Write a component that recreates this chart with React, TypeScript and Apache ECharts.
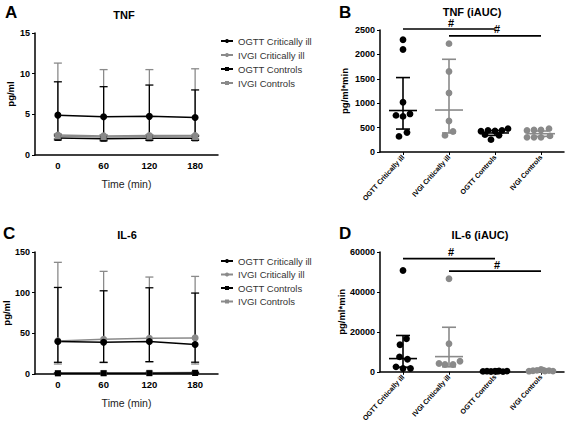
import React, { useEffect, useRef } from 'react';
import * as echarts from 'echarts';

const timeLabels = ['0', '60', '120', '180'];
const groupLabels = ['OGTT Critically ill', 'IVGI Critically ill', 'OGTT Controls', 'IVGI Controls'];

// Panel A: TNF time course (pg/ml) – mean, lower, upper
const tnfOgttIll = [4.9, 4.7, 4.75, 4.6];
const tnfOgttIllLo = [2.5, 2.4, 2.4, 2.4];
const tnfOgttIllHi = [9.0, 8.4, 8.6, 8.0];
const tnfIvgiIll = [2.45, 2.35, 2.4, 2.4];
const tnfIvgiIllLo = [2.0, 1.9, 1.95, 1.95];
const tnfIvgiIllHi = [11.3, 10.5, 10.5, 10.6];
const tnfOgttCtl = [2.1, 2.0, 2.05, 2.05];
const tnfOgttCtlLo = [1.85, 1.75, 1.8, 1.8];
const tnfOgttCtlHi = [2.35, 2.25, 2.3, 2.3];
const tnfIvgiCtl = [2.3, 2.2, 2.25, 2.2];
const tnfIvgiCtlLo = [2.0, 1.95, 2.0, 1.95];
const tnfIvgiCtlHi = [2.6, 2.5, 2.5, 2.45];

// Panel C: IL-6 time course (pg/ml)
const il6OgttIll = [39.9, 39.0, 40.0, 36.2];
const il6OgttIllLo = [14.4, 14.4, 15.2, 14.5];
const il6OgttIllHi = [106.4, 102.3, 106.0, 99.5];
const il6IvgiIll = [40.7, 42.7, 44.0, 44.4];
const il6IvgiIllLo = [12.3, 14.0, 15.0, 12.3];
const il6IvgiIllHi = [137.3, 126.2, 119.2, 120.0];
const il6OgttCtl = [0.8, 0.9, 1.0, 1.2];
const il6OgttCtlLo = [0.3, 0.4, 0.5, 0.6];
const il6OgttCtlHi = [1.3, 1.4, 1.5, 1.8];
const il6IvgiCtl = [1.2, 1.3, 1.5, 1.8];
const il6IvgiCtlLo = [0.6, 0.7, 0.8, 1.0];
const il6IvgiCtlHi = [1.8, 1.9, 2.2, 2.6];

// Panel B: TNF iAUC individual values (pg/ml*min)
const tnfAucOgttIll = [2300, 2100, 1020, 750, 730, 780, 320, 400];
const tnfAucIvgiIll = [2220, 1650, 1210, 635, 340, 420];
const tnfAucOgttCtl = [424, 444, 430, 444, 478, 355, 341, 253];
const tnfAucIvgiCtl = [440, 450, 450, 478, 300, 300, 300, 330];
// centre, lower, upper
const tnfAucSummary = [
  [850, 470, 1525],
  [860, 390, 1900],
  [390, 340, 440],
  [375, 320, 430],
];

// Panel D: IL-6 iAUC individual values (pg/ml*min)
const il6AucOgttIll = [50750, 16530, 13550, 7440, 6280, 2480, 1650, 1650];
const il6AucIvgiIll = [46600, 14050, 4130, 3640, 3640, 5290];
const il6AucOgttCtl = [200, 300, 150, 250, 400, 100, 350, 200];
const il6AucIvgiCtl = [300, 500, 700, 1200, 400, 600, 350, 800];
const il6AucSummary = [
  [6610, 2310, 18180],
  [7600, 2480, 22300],
  [200, 100, 350],
  [400, 200, 700],
];

// horizontal jitter of dots (px)
const jitterOgttIll = [0, 0, 0, -7, 0, 7, -4, 4];
const jitterIvgiIll = [0, 0, 0, 0, -4, 4];
const jitterCtl = [-14, -7, 0, 7, 13, -10, 4, -4];
const jitterCtl2 = [-14, -7, 0, 8, -14, -7, 0, 9];
const jitterDOgttIll = [0, 3.5, -3, -3.5, 4.5, -7, 0, 7.5];
const jitterDIvgiIll = [0, 0, -10, -4, 4, 11];
const jitterDCtl = [-12, -8, -4, 0, 4, 8, 12, 2];

// significance brackets: from group, to group, level
const tnfSig = [[0, 2, 2520], [1, 3, 2380]];
const il6Sig = [[0, 2, 56700], [1, 3, 50400]];

const BLACK = '#000000';
const GRAY = '#8a8a8a';
const FONT = 'Liberation Sans, Arial, sans-serif';

function errRender(capW: number) {
  return (params: any, api: any) => {
    const x = api.value(0);
    const lo = api.value(1);
    const hi = api.value(2);
    const pLo = api.coord([x, lo]);
    const pHi = api.coord([x, hi]);
    const style = { stroke: api.visual('color'), lineWidth: 1.3, fill: null };
    return {
      type: 'group',
      children: [
        { type: 'line', shape: { x1: pLo[0], y1: pLo[1], x2: pHi[0], y2: pHi[1] }, style },
        { type: 'line', shape: { x1: pHi[0] - capW / 2, y1: pHi[1], x2: pHi[0] + capW / 2, y2: pHi[1] }, style },
        { type: 'line', shape: { x1: pLo[0] - capW / 2, y1: pLo[1], x2: pLo[0] + capW / 2, y2: pLo[1] }, style },
      ],
    };
  };
}

function summaryRender(params: any, api: any) {
  const x = api.value(0);
  const c = api.coord([x, api.value(1)]);
  const lo = api.coord([x, api.value(2)]);
  const hi = api.coord([x, api.value(3)]);
  const style = { stroke: api.visual('color'), lineWidth: 1.6, fill: null };
  const mw = 28;
  const cw = 14;
  return {
    type: 'group',
    children: [
      { type: 'line', shape: { x1: c[0] - mw / 2, y1: c[1], x2: c[0] + mw / 2, y2: c[1] }, style },
      { type: 'line', shape: { x1: lo[0], y1: lo[1], x2: hi[0], y2: hi[1] }, style },
      { type: 'line', shape: { x1: hi[0] - cw / 2, y1: hi[1], x2: hi[0] + cw / 2, y2: hi[1] }, style },
      { type: 'line', shape: { x1: lo[0] - cw / 2, y1: lo[1], x2: lo[0] + cw / 2, y2: lo[1] }, style },
    ],
  };
}

function dotRender(params: any, api: any) {
  const p = api.coord([api.value(0), api.value(1)]);
  return {
    type: 'circle',
    shape: { cx: p[0] + api.value(2), cy: p[1], r: 3.4 },
    style: { fill: api.visual('color') },
  };
}

function sigRender(params: any, api: any) {
  const a = api.coord([api.value(0), api.value(2)]);
  const b = api.coord([api.value(1), api.value(2)]);
  return {
    type: 'group',
    children: [
      { type: 'line', shape: { x1: a[0], y1: a[1], x2: b[0], y2: b[1] }, style: { stroke: '#000', lineWidth: 1.6 } },
      {
        type: 'text',
        x: (a[0] + b[0]) / 2 + 2,
        y: a[1] - 1,
        style: { text: '#', fill: '#000', font: 'bold 11px ' + FONT, textAlign: 'center', textVerticalAlign: 'bottom' },
      },
    ],
  };
}

function errData(lo: number[], hi: number[]) {
  return lo.map((l, i) => [i, l, hi[i]]);
}
function dotData(cat: number, vals: number[], jit: number[]) {
  return vals.map((v, i) => [cat, v, jit[i]]);
}

export default function App() {
  const ref = useRef<HTMLDivElement>(null);
  useEffect(() => {
    if (!ref.current) return;
    const chart = echarts.init(ref.current, undefined, { renderer: 'svg' });

    const grids = [
      { left: 35, top: 33, width: 183, height: 122 },
      { left: 380, top: 30, width: 184, height: 122 },
      { left: 35, top: 252, width: 183, height: 122 },
      { left: 380, top: 252, width: 184, height: 121 },
    ];

    const axisLine = { show: true, lineStyle: { color: '#000', width: 1.5 } };
    const yLabel = {
      color: '#000', fontSize: 9, fontWeight: 'bold', fontFamily: FONT, margin: 5,
      formatter: (v: number) => String(v),
    };
    const yName = { color: '#000', fontSize: 9.5, fontWeight: 'bold', fontFamily: FONT };

    const timeAxis = (gi: number) => ({
      type: 'category',
      gridIndex: gi,
      data: timeLabels,
      boundaryGap: true,
      axisLine,
      axisTick: { show: false },
      axisLabel: { color: '#000', fontSize: 9.5, fontWeight: 'bold', fontFamily: FONT, margin: 5 },
      name: 'Time (min)',
      nameLocation: 'middle',
      nameGap: 23,
      nameTextStyle: { color: '#222', fontSize: 10.5, fontFamily: FONT },
    });
    const groupAxis = (gi: number) => ({
      type: 'category',
      gridIndex: gi,
      data: groupLabels,
      boundaryGap: true,
      axisLine,
      axisTick: { show: true, alignWithLabel: true, length: 3, lineStyle: { color: '#000', width: 1 } },
      axisLabel: { color: '#000', fontSize: 7, fontWeight: 'bold', fontFamily: FONT, rotate: 48, margin: 4, interval: 0 },
    });
    const valAxis = (gi: number, max: number, interval: number, name: string, gap: number) => ({
      type: 'value',
      gridIndex: gi,
      min: 0,
      max,
      interval,
      axisLine,
      axisTick: { show: true, length: 3, lineStyle: { color: '#000', width: 1 } },
      splitLine: { show: false },
      axisLabel: yLabel,
      name,
      nameLocation: 'middle',
      nameGap: gap,
      nameTextStyle: yName,
    });

    const names = groupLabels;
    const lineSeries = (gi: number, name: string, data: number[], color: string, symbol: string, size: number) => ({
      type: 'line',
      name,
      xAxisIndex: gi,
      yAxisIndex: gi,
      data,
      symbol,
      symbolSize: size,
      itemStyle: { color },
      lineStyle: { color, width: 1.5 },
      z: 5,
    });
    const errSeries = (gi: number, lo: number[], hi: number[], color: string) => ({
      type: 'custom',
      xAxisIndex: gi,
      yAxisIndex: gi,
      renderItem: errRender(8),
      itemStyle: { color },
      data: errData(lo, hi),
      z: 3,
      silent: true,
    });
    const dotSeries = (gi: number, cat: number, vals: number[], jit: number[], color: string) => ({
      type: 'custom',
      xAxisIndex: gi,
      yAxisIndex: gi,
      renderItem: dotRender,
      itemStyle: { color },
      data: dotData(cat, vals, jit),
      z: 4,
      silent: true,
    });
    const summarySeries = (gi: number, summ: number[][]) => [0, 1, 2, 3].map((i) => ({
      type: 'custom',
      xAxisIndex: gi,
      yAxisIndex: gi,
      renderItem: summaryRender,
      itemStyle: { color: i % 2 === 0 ? BLACK : GRAY },
      data: [[i, summ[i][0], summ[i][1], summ[i][2]]],
      z: 5,
      silent: true,
    }));
    const sigSeries = (gi: number, sig: number[][]) => ({
      type: 'custom',
      xAxisIndex: gi,
      yAxisIndex: gi,
      renderItem: sigRender,
      data: sig,
      z: 6,
      silent: true,
      clip: false,
    });

    const legend = (top: number, gap: number) => ({
      orient: 'vertical',
      left: 220,
      top,
      padding: 0,
      itemWidth: 12,
      itemHeight: 5,
      itemGap: gap,
      selectedMode: false,
      textStyle: { color: '#333', fontSize: 9.5, fontFamily: FONT, lineHeight: 11 },
      data: names,
    });

    const text = (t: string, x: number, y: number, size: number, align = 'center') => ({
      type: 'text',
      x,
      y,
      style: { text: t, fill: '#000', font: 'bold ' + size + 'px ' + FONT, textAlign: align, textVerticalAlign: 'middle' },
    });

    const option: any = {
      animation: false,
      backgroundColor: '#ffffff',
      grid: grids,
      legend: [legend(35.5, 3), legend(255.5, 2.5)],
      xAxis: [timeAxis(0), groupAxis(1), timeAxis(2), groupAxis(3)],
      yAxis: [
        valAxis(0, 15, 5, 'pg/ml', 20),
        valAxis(1, 2500, 500, 'pg/ml*min', 31),
        valAxis(2, 150, 50, 'pg/ml', 24),
        valAxis(3, 60000, 20000, 'pg/ml*min', 33),
      ],
      graphic: [
        text('A', 5, 12, 17, 'left'),
        text('B', 339, 12, 17, 'left'),
        text('C', 3, 233, 17, 'left'),
        text('D', 339, 233, 17, 'left'),
        text('TNF', 124, 15, 11),
        text('TNF (iAUC)', 472, 12, 11),
        text('IL-6', 127, 235, 11),
        text('IL-6 (iAUC)', 480, 235, 11),
      ],
      series: [
        // Panel A
        errSeries(0, tnfIvgiIllLo, tnfIvgiIllHi, GRAY),
        errSeries(0, tnfOgttIllLo, tnfOgttIllHi, BLACK),
        errSeries(0, tnfIvgiCtlLo, tnfIvgiCtlHi, GRAY),
        errSeries(0, tnfOgttCtlLo, tnfOgttCtlHi, BLACK),
        lineSeries(0, names[0], tnfOgttIll, BLACK, 'circle', 7),
        lineSeries(0, names[1], tnfIvgiIll, GRAY, 'circle', 7),
        lineSeries(0, names[2], tnfOgttCtl, BLACK, 'rect', 6),
        lineSeries(0, names[3], tnfIvgiCtl, GRAY, 'rect', 6),
        // Panel C
        errSeries(2, il6IvgiIllLo, il6IvgiIllHi, GRAY),
        errSeries(2, il6OgttIllLo, il6OgttIllHi, BLACK),
        errSeries(2, il6IvgiCtlLo, il6IvgiCtlHi, GRAY),
        errSeries(2, il6OgttCtlLo, il6OgttCtlHi, BLACK),
        lineSeries(2, names[1], il6IvgiIll, GRAY, 'circle', 7),
        lineSeries(2, names[0], il6OgttIll, BLACK, 'circle', 7),
        lineSeries(2, names[3], il6IvgiCtl, GRAY, 'rect', 6),
        lineSeries(2, names[2], il6OgttCtl, BLACK, 'rect', 6),
        // Panel B
        dotSeries(1, 0, tnfAucOgttIll, jitterOgttIll, BLACK),
        dotSeries(1, 1, tnfAucIvgiIll, jitterIvgiIll, GRAY),
        dotSeries(1, 2, tnfAucOgttCtl, jitterCtl, BLACK),
        dotSeries(1, 3, tnfAucIvgiCtl, jitterCtl2, GRAY),
        ...summarySeries(1, tnfAucSummary),
        sigSeries(1, tnfSig),
        // Panel D
        dotSeries(3, 0, il6AucOgttIll, jitterDOgttIll, BLACK),
        dotSeries(3, 1, il6AucIvgiIll, jitterDIvgiIll, GRAY),
        dotSeries(3, 2, il6AucOgttCtl, jitterDCtl, BLACK),
        dotSeries(3, 3, il6AucIvgiCtl, jitterDCtl, GRAY),
        ...summarySeries(3, il6AucSummary),
        sigSeries(3, il6Sig),
      ],
    };
    chart.setOption(option);
    return () => chart.dispose();
  }, []);
  return <div ref={ref} style={{ position: 'absolute', left: 0, top: 0, width: 567, height: 424, background: '#fff' }} />;
}
